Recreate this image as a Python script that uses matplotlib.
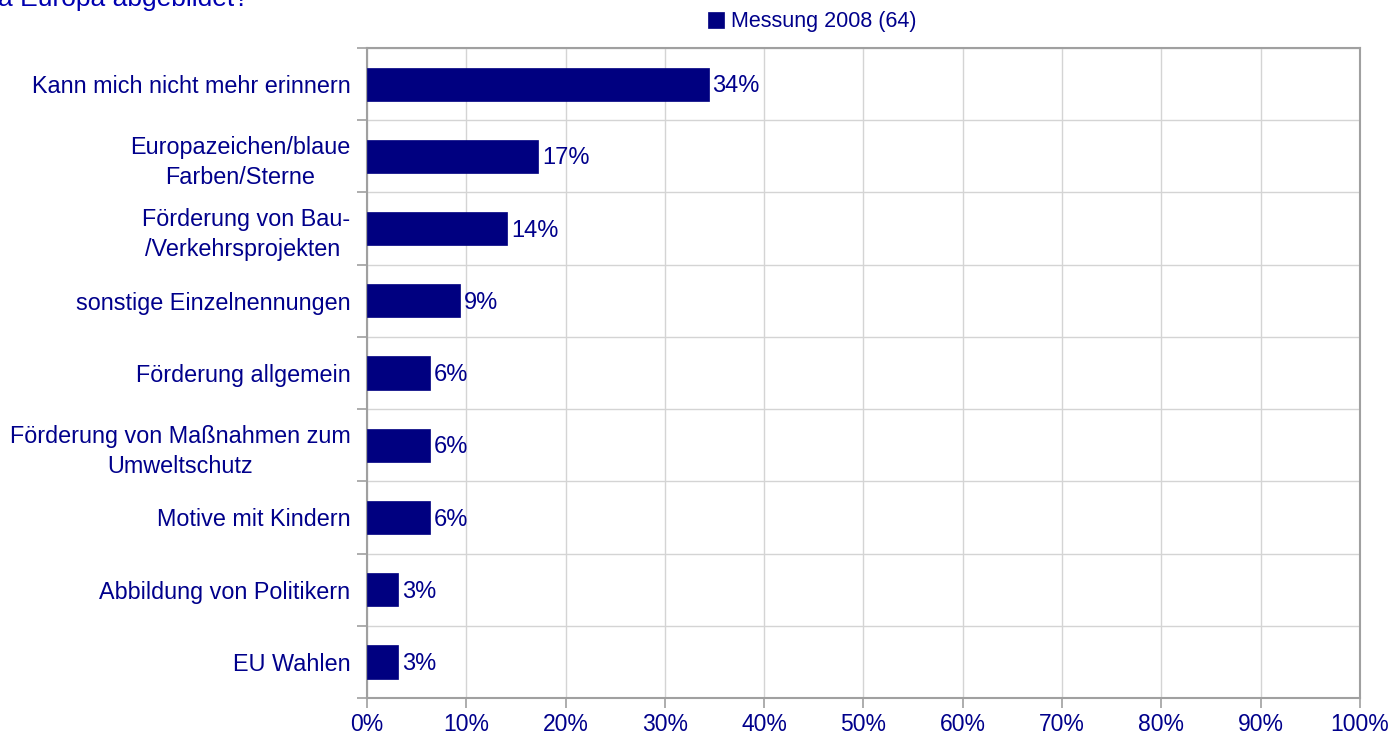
import matplotlib
matplotlib.use('Agg')
import matplotlib.pyplot as plt
from matplotlib.ticker import MultipleLocator, FuncFormatter
import numpy as np

plt.rcParams['font.family'] = ['Liberation Sans', 'DejaVu Sans']

categories = [
    'Kann mich nicht mehr erinnern',
    'Europazeichen/blaue\nFarben/Sterne',
    'Förderung von Bau-\n/Verkehrsprojekten ',
    'sonstige Einzelnennungen',
    'Förderung allgemein',
    'Förderung von Maßnahmen zum\nUmweltschutz',
    'Motive mit Kindern',
    'Abbildung von Politikern',
    'EU Wahlen',
]
# shares of 64 answers, in percent
values = [34.4, 17.2, 14.1, 9.4, 6.3, 6.3, 6.3, 3.1, 3.1]
series_name = 'Messung 2008 (64)'
title_tail = 'a Europa abgebildet?'

navy = '#000080'
text_col = '#00008B'
grid_col = '#d4d4d4'
spine_col = '#a0a0a0'
fs = 16.5

fig = plt.figure(figsize=(13.9, 7.36), dpi=100)
ax = fig.add_axes([367 / 1390, 1 - 698 / 736, (1360 - 367) / 1390, (698 - 48) / 736])

n = len(categories)
y = np.arange(n)
bars = ax.barh(y, values, height=0.46, color=navy, edgecolor=navy, linewidth=0.5,
               label=series_name, zorder=3)

for b, v in zip(bars, values):
    ax.text(b.get_width() + 0.4, b.get_y() + b.get_height() / 2 + 0.03, '%.0f%%' % v,
            va='center', ha='left', fontsize=17, color=text_col, zorder=4)

ax.set_xlim(0, 100)
ax.set_ylim(n - 0.5, -0.5)
ax.xaxis.set_major_locator(MultipleLocator(10))
ax.xaxis.set_major_formatter(FuncFormatter(lambda v, p: '%d%%' % v))

# category labels sit between the boundary ticks
ax.set_yticks(np.arange(n + 1) - 0.5)
ax.set_yticklabels([])
ax.set_yticks(y, minor=True)
ax.set_yticklabels(categories, minor=True, multialignment='center', linespacing=1.4)
ax.tick_params(axis='y', which='minor', length=0, pad=12, labelsize=16.8, labelcolor=text_col)
ax.tick_params(axis='y', which='major', length=7, width=1.2, color=spine_col)
ax.tick_params(axis='x', length=7, width=1.2, color=spine_col, labelsize=fs,
               labelcolor=text_col, pad=4)

ax.grid(True, which='major', color=grid_col, linewidth=1, zorder=0)
ax.set_axisbelow(True)
for s in ax.spines.values():
    s.set_color(spine_col)
    s.set_linewidth(1.5)

fig.legend(handles=[bars], labels=[series_name], loc='center', bbox_to_anchor=(812 / 1390, 1 - 22 / 736),
           frameon=False, fontsize=15.5, labelcolor=text_col, handlelength=0.75, handleheight=0.75,
           handletextpad=0.3)

fig.text(-2 / 1390, 1 - 6 / 736, title_tail, fontsize=19, color='#0000B0', ha='left', va='baseline')

fig.savefig('out.png', dpi=100)
